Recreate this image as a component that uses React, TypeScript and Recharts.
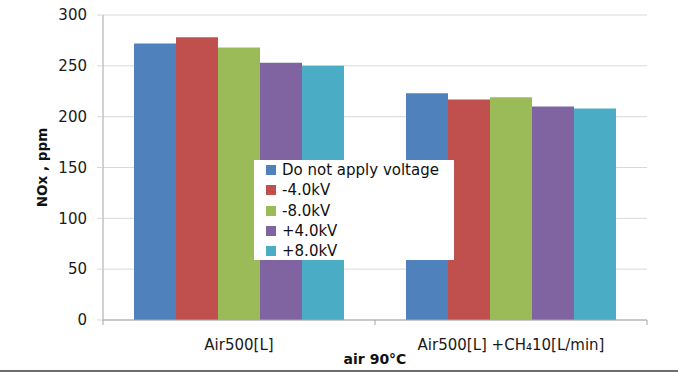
import React from "react";
import { BarChart, Bar, XAxis, YAxis, CartesianGrid, Legend } from "recharts";

// NOx concentration, air at 90°C, with and without applied voltage
const categories = ["Air500[L]", "Air500[L] +CH₄10[L/min]"];
const noVoltage = [272, 223];
const minus4kV = [278, 217];
const minus8kV = [268, 219];
const plus4kV = [253, 210];
const plus8kV = [250, 208];
const yTicks = [0, 50, 100, 150, 200, 250, 300];

const series = [
  { key: "noVoltage", name: "Do not apply voltage", color: "#4F81BD", values: noVoltage },
  { key: "minus4kV", name: "-4.0kV", color: "#C0504D", values: minus4kV },
  { key: "minus8kV", name: "-8.0kV", color: "#9BBB59", values: minus8kV },
  { key: "plus4kV", name: "+4.0kV", color: "#8064A2", values: plus4kV },
  { key: "plus8kV", name: "+8.0kV", color: "#4BACC6", values: plus8kV },
];

const data = categories.map((name, i) => {
  const row: Record<string, string | number> = { name };
  series.forEach((s) => {
    row[s.key] = s.values[i];
  });
  return row;
});

const FONT = "'DejaVu Sans', Verdana, sans-serif";
const AXIS_GRAY = "#a6a6a6";
const TICK_SIZE = 6;
const X_TICK_MARGIN = 13;

// category label plus the boundary tick marks between groups
const CategoryTick = (props: any) => {
  const { x, y, payload, index, visibleTicksCount } = props;
  const half = payload.offset || 0;
  const axisY = y - TICK_SIZE - X_TICK_MARGIN;
  return (
    <g>
      <line x1={x - half} x2={x - half} y1={axisY} y2={axisY + 5} stroke={AXIS_GRAY} />
      {index === visibleTicksCount - 1 && (
        <line x1={x + half} x2={x + half} y1={axisY} y2={axisY + 5} stroke={AXIS_GRAY} />
      )}
      <text x={x} y={y} dy="0.71em" textAnchor="middle" fontSize={15} fill="#1a1a1a" fontFamily={FONT}>
        {payload.value}
      </text>
    </g>
  );
};

const YLabel = (props: any) => {
  const { viewBox } = props;
  const cx = viewBox.x + 42;
  const cy = viewBox.y + viewBox.height / 2;
  return (
    <text
      x={cx}
      y={cy}
      transform={`rotate(-90, ${cx}, ${cy})`}
      textAnchor="middle"
      dominantBaseline="central"
      fontSize={13.5}
      fontWeight="bold"
      fill="#111"
      fontFamily={FONT}
    >
      NOx , ppm
    </text>
  );
};

// legend rows kept in series order
const LegendBox = (props: any) => {
  const payload: any[] = props.payload || [];
  const order = series.map((s) => s.name);
  const items = [...payload].sort((a, b) => order.indexOf(a.value) - order.indexOf(b.value));
  return (
    <div
      style={{
        background: "#fff",
        width: 200,
        height: 100,
        boxSizing: "border-box",
        padding: "0 0 0 12px",
        fontFamily: FONT,
        fontSize: 15,
        color: "#111",
      }}
    >
      {items.map((entry: any) => (
        <div key={entry.value} style={{ display: "flex", alignItems: "center", height: 20.3 }}>
          <span
            style={{
              display: "inline-block",
              width: 10,
              height: 10,
              background: entry.color,
              marginRight: 6,
            }}
          />
          <span>{entry.value}</span>
        </div>
      ))}
    </div>
  );
};

export default function App() {
  return (
    <div style={{ position: "absolute", left: 0, top: 0, width: 678, height: 372, background: "#fff" }}>
      <BarChart
        width={678}
        height={372}
        data={data}
        margin={{ top: 15, right: 31, bottom: 0, left: 0 }}
        barSize={42}
        barGap={0}
      >
        <CartesianGrid horizontal vertical={false} stroke="#d9d9d9" />
        <XAxis
          dataKey="name"
          height={52}
          axisLine={{ stroke: AXIS_GRAY }}
          tickLine={false}
          tickSize={TICK_SIZE}
          tickMargin={X_TICK_MARGIN}
          tick={<CategoryTick />}
          interval={0}
          label={{
            value: "air 90°C",
            position: "insideBottom",
            offset: 8,
            fontSize: 14,
            fontWeight: "bold",
            fill: "#111",
            fontFamily: FONT,
          }}
        />
        <YAxis
          width={103}
          domain={[0, 300]}
          ticks={yTicks}
          interval={0}
          axisLine={{ stroke: AXIS_GRAY }}
          tickLine={{ stroke: "#d9d9d9" }}
          tickSize={TICK_SIZE}
          tickMargin={10}
          tick={{ fontSize: 15, fill: "#1a1a1a", fontFamily: FONT }}
          label={<YLabel />}
        />
        <Legend
          layout="vertical"
          align="center"
          verticalAlign="middle"
          content={<LegendBox />}
          wrapperStyle={{ position: "absolute", left: 254, top: 160, width: 200, height: 100 }}
        />
        {series.map((s) => (
          <Bar key={s.key} dataKey={s.key} name={s.name} fill={s.color} isAnimationActive={false} />
        ))}
      </BarChart>
      <div style={{ position: "absolute", left: 0, top: 370, width: 678, height: 2, background: "#6e6e6e" }} />
    </div>
  );
}
